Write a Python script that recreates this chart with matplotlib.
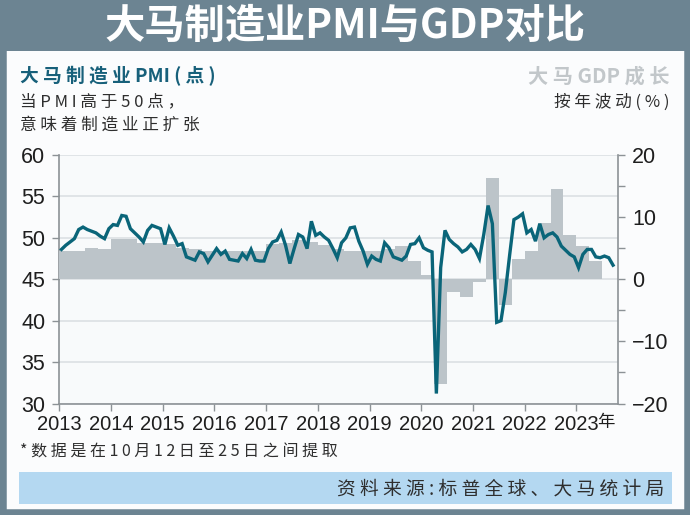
import matplotlib
matplotlib.use("Agg")
import matplotlib.pyplot as plt
from matplotlib.patches import Rectangle
from matplotlib.ticker import MultipleLocator
import numpy as np

# ---------------- data ----------------
pmi_start_year = 2013
pmi_values = [
    48.6, 49.1, 49.5, 49.9, 51.0, 51.3, 51.0, 50.8, 50.6, 50.2, 49.9, 51.1,   # 2013
    51.6, 51.5, 52.7, 52.6, 51.1, 50.6, 50.1, 49.5, 50.9, 51.5, 51.3, 51.1,   # 2014
    49.2, 51.2, 50.2, 49.1, 49.3, 47.7, 47.5, 47.3, 48.3, 48.1, 47.1, 47.9,   # 2015
    48.7, 48.0, 48.4, 47.4, 47.3, 47.2, 48.1, 47.5, 48.6, 47.3, 47.2, 47.2,   # 2016
    48.7, 49.5, 49.7, 50.7, 49.1, 46.9, 48.7, 50.4, 50.1, 48.7, 52.0, 50.3,   # 2017
    50.6, 50.1, 49.7, 48.7, 47.6, 49.4, 50.0, 51.2, 51.3, 49.6, 48.4, 46.8,   # 2018
    47.8, 47.4, 47.2, 49.4, 48.8, 47.7, 47.5, 47.3, 47.8, 49.2, 49.3, 50.0,   # 2019
    48.8, 48.5, 48.3, 31.2, 46.4, 50.9, 49.8, 49.3, 48.9, 48.3, 48.6, 49.2,   # 2020
    48.6, 47.5, 50.4, 53.9, 51.7, 39.8, 40.0, 43.4, 47.9, 52.2, 52.5, 52.9,   # 2021
    50.6, 51.0, 49.6, 51.7, 50.0, 50.4, 50.6, 50.1, 49.0, 48.5, 48.0, 47.7,   # 2022
    46.4, 48.0, 48.6, 48.6, 47.7, 47.6, 47.8, 47.6, 46.7,                     # 2023
]
gdp_values = [
    4.5, 4.5, 5.1, 4.8,      # 2013
    6.4, 6.4, 5.8, 5.8,      # 2014
    5.6, 5.0, 4.8, 4.6,      # 2015
    4.6, 4.5, 4.5, 4.6,      # 2016
    5.7, 5.9, 6.3, 6.0,      # 2017
    5.5, 4.8, 4.5, 4.6,      # 2018
    4.5, 4.9, 5.3, 2.9,      # 2019
    0.7, -16.8, -2.1, -2.9,  # 2020
    -0.5, 16.3, -4.2, 3.3,   # 2021
    4.5, 9.1, 14.5, 7.1,     # 2022
    5.3, 2.9,                # 2023
]
year_labels = ["2013", "2014", "2015", "2016", "2017", "2018",
               "2019", "2020", "2021", "2022", "2023"]

title_text = "大马制造业PMI与GDP对比"
left_head = "大马制造业PMI(点)"
left_sub1 = "当PMI高于50点，"
left_sub2 = "意味着制造业正扩张"
right_head = "大马GDP成长"
right_sub = "按年波动(%)"
footnote = "*数据是在10月12日至25日之间提取"
source = "资料来源:标普全球、大马统计局"

# ---------------- style ----------------
CJK = ["Noto Sans CJK SC", "DejaVu Sans"]
NUM = ["Liberation Sans Narrow", "Liberation Sans", "DejaVu Sans"]
plt.rcParams["font.family"] = CJK

FRAME = "#6C8492"
TEAL = "#0A6579"
HEAD_TEAL = "#17607A"
BAR = "#BCC4C9"
GRID = "#D9DEE1"
SPINE = "#8C9296"
TXT = "#2E2E2E"

W, H = 690, 515
fig = plt.figure(figsize=(W / 100, H / 100), dpi=100)
fig.patch.set_facecolor("#FBFCFD")

def fx(px):
    return px / W

def fy(py):
    return 1 - py / H

def spaced(s, sep=" "):
    return sep.join(list(s))

# frame and title bar
fig.patches.append(Rectangle((0, 0), 1, 1, transform=fig.transFigure,
                             facecolor="none", edgecolor=FRAME, linewidth=9, zorder=0))
fig.patches.append(Rectangle((0, fy(51)), 1, 51 / H, transform=fig.transFigure,
                             facecolor=FRAME, edgecolor="none", zorder=1))
fig.text(0.5, fy(26), title_text, color="white", fontsize=29, fontweight="bold",
         ha="center", va="center", family=CJK)

# headers
fig.text(fx(20), fy(76), "大 马 制 造 业 PMI ( 点 )",
         color=HEAD_TEAL, fontsize=13.5, fontweight="bold", ha="left", va="center")
fig.text(fx(20), fy(102), spaced(left_sub1), color=TXT, fontsize=12, ha="left", va="center")
fig.text(fx(20), fy(125), spaced(left_sub2), color=TXT, fontsize=12, ha="left", va="center")
fig.text(fx(670), fy(76), "大 马 GDP 成 长", color="#C2C7CA", fontsize=14.5,
         fontweight="bold", ha="right", va="center")
fig.text(fx(670), fy(102), spaced(right_sub), color=TXT, fontsize=12, ha="right", va="center")

# footnote and source bar
fig.text(fx(20), fy(452), spaced(footnote), color=TXT, fontsize=11.5, ha="left", va="center")
fig.patches.append(Rectangle((fx(19), fy(504)), fx(672) - fx(19), 32 / H,
                             transform=fig.transFigure, facecolor="#B4D8F1",
                             edgecolor="none", zorder=1))
fig.text(fx(664), fy(489), spaced(source), color=TXT, fontsize=13.5,
         ha="right", va="center", zorder=2)

# ---------------- axes ----------------
left, right = fx(59.3), fx(618.3)
bottom, top = fy(403.5), fy(155)
ax = fig.add_axes([left, bottom, right - left, top - bottom])
ax.set_facecolor("#F8FAFB")
ax2 = ax.twinx()
ax3 = ax.twinx()

x_month = pmi_start_year + (np.arange(len(pmi_values)) + 0.5) / 12
x_quarter = pmi_start_year + np.arange(len(gdp_values)) * 0.25

xmin, xmax = 2013, 2023.81

# PMI axis (grid + ticks)
ax.set_xlim(xmin, xmax)
ax.set_ylim(30, 60)
ax.yaxis.set_major_locator(MultipleLocator(5))
ax.grid(axis="y", color=GRID, linewidth=1.1)
ax.set_axisbelow(True)
ax.set_xticks(range(2013, 2024))
ax.set_xticklabels(year_labels)
for lab in ax.get_xticklabels() + ax.get_yticklabels():
    lab.set_family(NUM)
ax.tick_params(axis="x", direction="out", length=5, width=1, color=SPINE,
               labelsize=14.5, labelcolor="#1E1E1E", pad=3)
ax.tick_params(axis="y", direction="out", length=5, width=1, color=SPINE,
               labelsize=15.5, labelcolor="#1E1E1E", pad=5)
for s in ["top", "right"]:
    ax.spines[s].set_visible(False)
for s in ["left", "bottom"]:
    ax.spines[s].set_color(SPINE)
    ax.spines[s].set_linewidth(1.2)
ax.annotate("年", xy=(2023, 0), xycoords=("data", "axes fraction"),
            xytext=(15, -13.3), textcoords="offset points", ha="left", va="center",
            fontsize=12.5, color="#1E1E1E")

# GDP axis (bars)
ax2.bar(x_quarter, gdp_values, width=0.25, align="edge", color=BAR,
        edgecolor="none", zorder=2)
ax2.set_xlim(xmin, xmax)
ax2.set_ylim(-20, 20)
ax2.yaxis.set_major_locator(MultipleLocator(10))
ax2.yaxis.set_minor_locator(MultipleLocator(5))
for lab in ax2.get_yticklabels():
    lab.set_family(NUM)
ax2.tick_params(axis="y", which="major", direction="out", length=5, width=1,
                color=SPINE, labelsize=15.5, labelcolor="#1E1E1E", pad=5)
ax2.tick_params(axis="y", which="minor", direction="out", length=5, width=1,
                color=SPINE)
for s in ["top", "left", "bottom"]:
    ax2.spines[s].set_visible(False)
ax2.spines["right"].set_color(SPINE)
ax2.spines["right"].set_linewidth(1.2)

# PMI line on top
ax3.plot(x_month, pmi_values, color=TEAL, linewidth=2.4, solid_joinstyle="miter",
         zorder=3)
ax3.set_xlim(xmin, xmax)
ax3.set_ylim(30, 60)
ax3.set_yticks([])
for s in ax3.spines.values():
    s.set_visible(False)

fig.savefig("out.png", dpi=100, facecolor=fig.get_facecolor())
